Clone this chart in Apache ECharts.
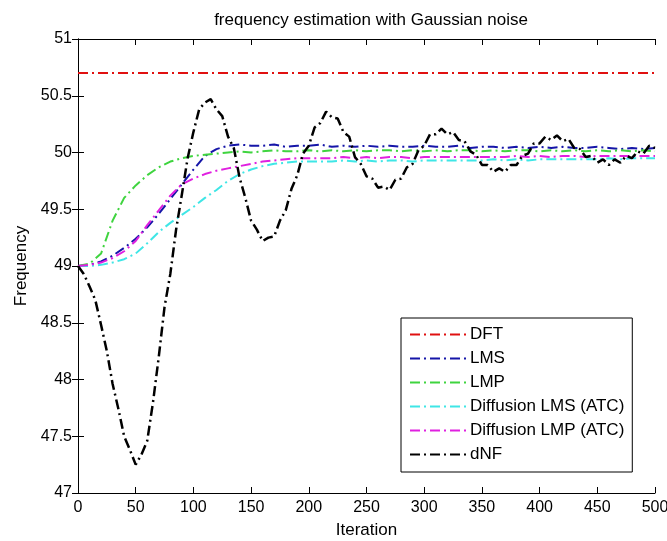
<!DOCTYPE html>
<html>
<head>
<meta charset="utf-8">
<script src="https://cdn.jsdelivr.net/npm/echarts@6/dist/echarts.min.js"></script>
<style>
  html, body { margin: 0; padding: 0; background: #fff; }
  #chart { width: 667px; height: 541px; }
</style>
</head>
<body>
<div id="chart"></div>
<script>
// iterations for the smooth estimators (every 10)
const iterSmooth = [0,10,20,30,40,50,60,70,80,90,100,110,120,130,140,150,160,170,180,190,200,
  210,220,230,240,250,260,270,280,290,300,310,320,330,340,350,360,370,380,390,400,
  410,420,430,440,450,460,470,480,490,500]

const dftValue = 50.7

const lmsValues = [49.00,49.01,49.04,49.09,49.16,49.24,49.34,49.46,49.59,49.72,49.85,49.97,50.03,50.06,50.07,50.06,50.06,50.07,50.05,50.06,50.06,
  50.07,50.05,50.06,50.05,50.06,50.05,50.06,50.05,50.05,50.06,50.05,50.05,50.06,50.04,50.05,50.05,50.04,50.05,50.04,50.05,
  50.04,50.05,50.04,50.04,50.05,50.04,50.03,50.04,50.03,50.04]

const lmpValues = [49.00,49.02,49.11,49.40,49.60,49.71,49.80,49.87,49.92,49.95,49.97,49.98,49.99,50.00,50.01,50.00,50.01,50.02,50.01,50.01,50.02,
  50.01,50.02,50.01,50.02,50.01,50.02,50.02,50.01,50.02,50.01,50.02,50.01,50.02,50.02,50.01,50.02,50.01,50.02,50.02,50.01,
  50.02,50.01,50.02,50.01,50.02,50.01,50.02,50.01,50.02,50.01]

const diffLmsValues = [49.00,49.00,49.01,49.03,49.06,49.11,49.20,49.30,49.38,49.45,49.52,49.60,49.67,49.75,49.81,49.85,49.88,49.90,49.91,49.92,49.92,
  49.92,49.92,49.93,49.92,49.93,49.92,49.93,49.93,49.92,49.93,49.93,49.93,49.93,49.93,49.93,49.94,49.93,49.94,49.93,49.94,
  49.94,49.94,49.94,49.94,49.94,49.95,49.94,49.95,49.95,49.95]

const diffLmpValues = [49.00,49.01,49.03,49.07,49.13,49.22,49.36,49.49,49.62,49.72,49.77,49.81,49.84,49.86,49.88,49.90,49.92,49.93,49.94,49.95,49.95,
  49.95,49.95,49.96,49.95,49.96,49.95,49.96,49.96,49.95,49.96,49.96,49.96,49.96,49.96,49.96,49.96,49.96,49.97,49.96,49.97,
  49.96,49.97,49.97,49.96,49.97,49.97,49.97,49.97,49.97,49.97]

// dNF is noisier, read every 5 iterations
const iterDnf = [0,5,10,15,20,25,30,35,40,45,50,55,60,65,70,75,80,85,90,95,100,
  105,110,115,120,125,130,135,140,145,150,155,160,165,170,175,180,185,190,195,200,
  205,210,215,220,225,230,235,240,245,250,255,260,265,270,275,280,285,290,295,300,
  305,310,315,320,325,330,335,340,345,350,355,360,365,370,375,380,385,390,395,400,
  405,410,415,420,425,430,435,440,445,450,455,460,465,470,475,480,485,490,495,500]

const dnfValues = [49.00,48.93,48.82,48.70,48.48,48.25,47.96,47.74,47.50,47.38,47.25,47.34,47.46,47.80,48.20,48.64,48.93,49.32,49.63,49.95,50.18,
  50.38,50.44,50.47,50.38,50.32,50.14,50.04,49.78,49.60,49.40,49.32,49.22,49.25,49.26,49.40,49.49,49.68,49.80,49.99,50.06,
  50.22,50.26,50.36,50.31,50.30,50.18,50.14,49.96,49.90,49.79,49.77,49.69,49.70,49.67,49.76,49.77,49.87,49.90,50.02,50.06,
  50.16,50.16,50.21,50.16,50.18,50.11,50.10,50.01,49.98,49.89,49.89,49.83,49.86,49.83,49.89,49.89,49.97,49.99,50.08,50.08,
  50.14,50.11,50.15,50.10,50.12,50.04,50.03,49.96,49.97,49.91,49.94,49.89,49.94,49.91,49.97,49.95,50.01,49.99,50.06,50.04]

const seriesNames = ['DFT', 'LMS', 'LMP', 'Diffusion LMS (ATC)', 'Diffusion LMP (ATC)', 'dNF']
const seriesColors = ['#e01010', '#1515a8', '#3fd43f', '#3fe6e6', '#e020e0', '#000000']

const zip = (xs, ys) => xs.map((x, i) => [x, ys[i]])

const dashDot = [10, 4, 2, 4]
const font = 'Liberation Sans, Arial, sans-serif'

const mkSeries = (name, color, data, width) => ({
  name,
  type: 'line',
  data,
  symbol: 'none',
  showSymbol: false,
  lineStyle: { color, width, type: dashDot },
  itemStyle: { color },
  z: name === 'dNF' ? 3 : 2
})

const chart = echarts.init(document.getElementById('chart'), null, { renderer: 'canvas' })

chart.setOption({
  animation: false,
  backgroundColor: '#fff',
  title: {
    text: 'frequency estimation with Gaussian noise',
    left: 366,
    top: 7,
    textAlign: 'center',
    textStyle: { fontFamily: font, fontSize: 17, fontWeight: 'normal', color: '#000' }
  },
  grid: { left: 78, right: 12, top: 39, bottom: 48, outerBoundsMode: 'none' },
  legend: {
    orient: 'vertical',
    left: 401,
    top: 318,
    data: seriesNames,
    itemWidth: 57,
    itemHeight: 17,
    itemGap: 7,
    padding: [8, 8, 9, 8],
    borderColor: '#000',
    borderWidth: 1,
    backgroundColor: '#fff',
    itemStyle: { opacity: 0 },
    textStyle: { fontFamily: font, fontSize: 17, color: '#000', padding: [0, 0, 0, -2] }
  },
  xAxis: [{
    type: 'value',
    min: 0,
    max: 500,
    interval: 50,
    name: 'Iteration',
    nameLocation: 'middle',
    nameGap: 29,
    nameTextStyle: { fontFamily: font, fontSize: 17, color: '#000' },
    axisLine: { lineStyle: { color: '#000', width: 1 } },
    axisTick: { inside: true, length: 6, lineStyle: { color: '#000' } },
    axisLabel: { fontFamily: font, fontSize: 16, color: '#000', margin: 7 },
    splitLine: { show: false }
  }, {
    type: 'value',
    position: 'top',
    min: 0,
    max: 500,
    interval: 50,
    axisLine: { show: true, lineStyle: { color: '#000', width: 1 } },
    axisTick: { inside: true, length: 6, lineStyle: { color: '#000' } },
    axisLabel: { show: false },
    splitLine: { show: false }
  }],
  yAxis: [{
    type: 'value',
    min: 47,
    max: 51,
    interval: 0.5,
    name: 'Frequency',
    nameLocation: 'middle',
    nameGap: 48,
    nameTextStyle: { fontFamily: font, fontSize: 17, color: '#000' },
    axisLine: { show: true, lineStyle: { color: '#000', width: 1 } },
    axisTick: { show: true, inside: true, length: 6, lineStyle: { color: '#000' } },
    axisLabel: { fontFamily: font, fontSize: 16, color: '#000', margin: 6 },
    splitLine: { show: false }
  }, {
    type: 'value',
    position: 'right',
    min: 47,
    max: 51,
    interval: 0.5,
    axisLine: { show: true, lineStyle: { color: '#000', width: 1 } },
    axisTick: { show: true, inside: true, length: 6, lineStyle: { color: '#000' } },
    axisLabel: { show: false },
    splitLine: { show: false }
  }],
  series: [
    mkSeries('DFT', seriesColors[0], [[0, dftValue], [500, dftValue]], 2),
    mkSeries('LMS', seriesColors[1], zip(iterSmooth, lmsValues), 2),
    mkSeries('LMP', seriesColors[2], zip(iterSmooth, lmpValues), 2),
    mkSeries('Diffusion LMS (ATC)', seriesColors[3], zip(iterSmooth, diffLmsValues), 2),
    mkSeries('Diffusion LMP (ATC)', seriesColors[4], zip(iterSmooth, diffLmpValues), 2),
    mkSeries('dNF', seriesColors[5], zip(iterDnf, dnfValues), 2.5)
  ]
})
</script>
</body>
</html>
